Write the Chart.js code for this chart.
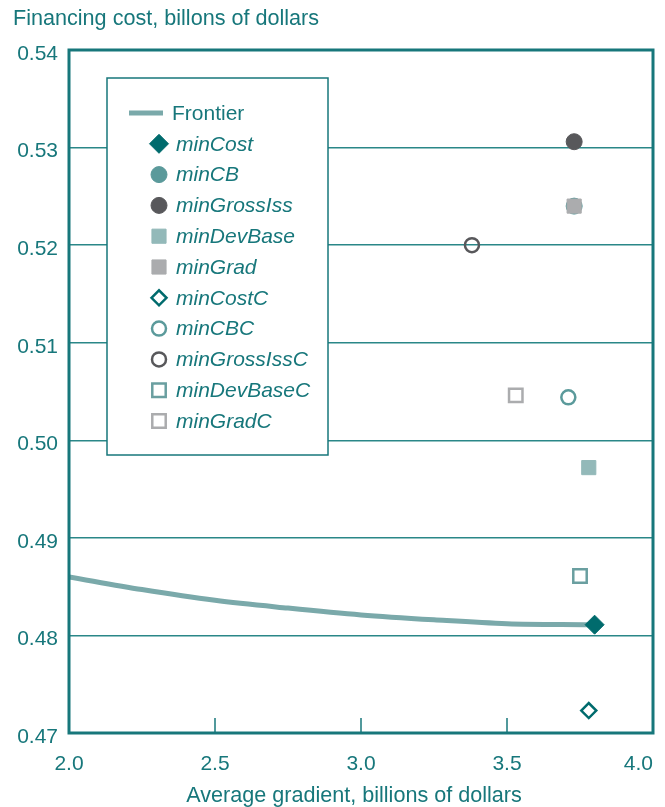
<!DOCTYPE html>
<html>
<head>
<meta charset="utf-8">
<script src="https://cdn.jsdelivr.net/npm/chart.js@4.4.1/dist/chart.umd.min.js"></script>
<style>
html,body{margin:0;padding:0;background:#fff;}
#wrap{width:665px;height:807px;position:relative;}
</style>
</head>
<body>
<div id="wrap"><canvas id="c" width="665" height="807"></canvas></div>
<script>
// ---- data ----
const xTickValues = [2.0, 2.5, 3.0, 3.5, 4.0];
const yTickValues = [0.47, 0.48, 0.49, 0.50, 0.51, 0.52, 0.53, 0.54];
const frontierX = [2.0, 2.25, 2.5, 2.75, 3.0, 3.25, 3.5, 3.78];
const frontierY = [0.4860, 0.4847, 0.4836, 0.4828, 0.4821, 0.4816, 0.4812, 0.4811];
const seriesNames = ["minCost","minCB","minGrossIss","minDevBase","minGrad","minCostC","minCBC","minGrossIssC","minDevBaseC","minGradC"];
const seriesX = [3.80, 3.73, 3.73, 3.78, 3.73, 3.78, 3.71, 3.38, 3.75, 3.53];
const seriesY = [0.4811, 0.5240, 0.5306, 0.4972, 0.5240, 0.4723, 0.5044, 0.5200, 0.4861, 0.5046];
const yTitle = "Financing cost, billons of dollars";
const xTitle = "Average gradient, billions of dollars";

// ---- styles ----
const TEAL = "#17777b";
const GRID = "#2a8788";
const FONT = "'Liberation Sans', Arial, sans-serif";
const FS = 21;
const FT = 21.6;
const styles = [
  {ps:"rectRot", r:9.5, fill:"#006b6d", stroke:"#006b6d", bw:1},
  {ps:"circle",  r:8,   fill:"#5b9a9b", stroke:"#5b9a9b", bw:1},
  {ps:"circle",  r:8,   fill:"#58585b", stroke:"#58585b", bw:1},
  {ps:"rect",    r:10,  fill:"#93b9b9", stroke:"#93b9b9", bw:1},
  {ps:"rect",    r:10,  fill:"#abacae", stroke:"#abacae", bw:1},
  {ps:"rectRot", r:7.5, fill:"rgba(255,255,255,0)", stroke:"#006b6d", bw:2.5},
  {ps:"circle",  r:7,   fill:"rgba(255,255,255,0)", stroke:"#5b9a9b", bw:2.5},
  {ps:"circle",  r:7,   fill:"rgba(255,255,255,0)", stroke:"#58585b", bw:2.5},
  {ps:"rect",    r:9.5, fill:"rgba(255,255,255,0)", stroke:"#6a9fa0", bw:2.5},
  {ps:"rect",    r:9.5, fill:"rgba(255,255,255,0)", stroke:"#abacae", bw:2.5}
];

const datasets = [{
  label: "Frontier",
  data: frontierX.map((x,i)=>({x:x, y:frontierY[i]})),
  showLine: true,
  borderColor: "#7aa9aa",
  borderWidth: 5,
  pointRadius: 0,
  cubicInterpolationMode: "monotone",
  order: 50
}];
seriesNames.forEach((n,i)=>{
  const s = styles[i];
  datasets.push({
    label: n,
    data: [{x: seriesX[i], y: seriesY[i]}],
    pointStyle: s.ps,
    pointRadius: s.r,
    pointHoverRadius: s.r,
    backgroundColor: s.fill,
    borderColor: s.stroke,
    pointBorderWidth: s.bw,
    order: 20 - i
  });
});

const framePlugin = {
  id: "frame",
  beforeDatasetsDraw(chart) {
    const {ctx, chartArea:a, scales} = chart;
    ctx.save();
    ctx.strokeStyle = TEAL;
    ctx.lineWidth = 1.5;
    scales.x.ticks.forEach(t=>{
      const px = scales.x.getPixelForValue(t.value);
      ctx.beginPath();
      ctx.moveTo(px, a.bottom);
      ctx.lineTo(px, a.bottom - 15);
      ctx.stroke();
    });
    ctx.restore();
  },
  afterDraw(chart) {
    const {ctx, chartArea:a} = chart;
    ctx.save();
    ctx.strokeStyle = TEAL;
    ctx.lineWidth = 3;
    ctx.strokeRect(a.left, a.top, a.right - a.left, a.bottom - a.top);
    // titles
    ctx.fillStyle = TEAL;
    ctx.font = FT + "px " + FONT;
    ctx.textAlign = "left";
    ctx.textBaseline = "middle";
    ctx.fillText(yTitle, 13, 19);
    ctx.textAlign = "center";
    ctx.fillText(xTitle, 354, 796);
    ctx.textAlign = "left";
    // legend box
    const bx = 107, by = 78, bw = 221, bh = 377;
    ctx.fillStyle = "#ffffff";
    ctx.fillRect(bx, by, bw, bh);
    ctx.strokeStyle = TEAL;
    ctx.lineWidth = 1.5;
    ctx.strokeRect(bx, by, bw, bh);
    const rowH = 30.8;
    chart.data.datasets.forEach((ds, i)=>{
      const y = 113 + i * rowH;
      if (i === 0) {
        ctx.strokeStyle = ds.borderColor;
        ctx.lineWidth = 5;
        ctx.beginPath();
        ctx.moveTo(129, y); ctx.lineTo(163, y);
        ctx.stroke();
        ctx.fillStyle = TEAL;
        ctx.font = FS + "px " + FONT;
        ctx.fillText(ds.label, 172, y + 1);
      } else {
        const s = styles[i-1];
        ctx.fillStyle = s.fill;
        ctx.strokeStyle = s.stroke;
        ctx.lineWidth = s.bw;
        Chart.helpers.drawPoint(ctx, {pointStyle: s.ps, radius: s.r, rotation: 0, borderWidth: s.bw}, 159, y);
        ctx.fillStyle = TEAL;
        ctx.font = "italic " + FS + "px " + FONT;
        ctx.fillText(ds.label, 176, y + 1);
      }
    });
    ctx.restore();
  }
};

new Chart(document.getElementById("c"), {
  type: "scatter",
  data: {datasets},
  plugins: [framePlugin],
  options: {
    responsive: false,
    animation: false,
    events: [],
    layout: {padding: {top: 50, right: 12, bottom: 0, left: 0}},
    plugins: {legend: {display: false}, tooltip: {enabled: false}, title: {display: false}},
    scales: {
      x: {
        type: "linear",
        min: xTickValues[0], max: xTickValues[xTickValues.length-1],
        afterBuildTicks(scale){ scale.ticks = xTickValues.map(v=>({value:v})); },
        afterFit(scale){ scale.height = 74; scale.paddingRight = 12; scale.paddingLeft = 0; },
        grid: {display: false},
        border: {display: false},
        ticks: {
          color: TEAL, font: {family: FONT, size: FS}, padding: 11,
          maxRotation: 0, autoSkip: false,
          callback: (v, idx, arr) => idx === arr.length - 1 ? v.toFixed(1) + "     " : v.toFixed(1)
        },
        title: {display: false}
      },
      y: {
        type: "linear",
        min: yTickValues[0], max: yTickValues[yTickValues.length-1],
        afterBuildTicks(scale){ scale.ticks = yTickValues.map(v=>({value:v})); },
        afterFit(scale){ scale.width = 69; },
        grid: {color: GRID, lineWidth: 1.5, drawTicks: false},
        border: {display: false},
        ticks: {
          color: TEAL, font: {family: FONT, size: FS}, padding: 11, labelOffset: 4,
          callback: v => v.toFixed(2)
        }
      }
    }
  }
});
</script>
</body>
</html>
